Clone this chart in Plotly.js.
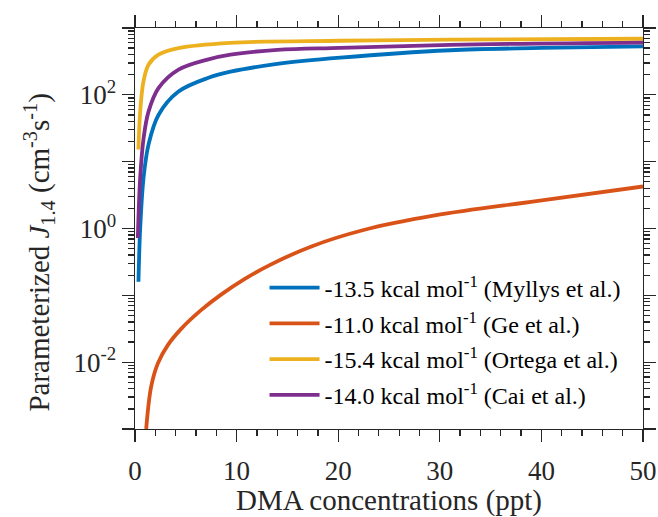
<!DOCTYPE html>
<html>
<head>
<meta charset="utf-8">
<script src="https://cdn.plot.ly/plotly-3.0.1.min.js"></script>
<style>
  html, body { margin: 0; padding: 0; background: #ffffff; }
  #chart { width: 658px; height: 517px; }
</style>
</head>
<body>
<div id="chart"></div>
<script>
// Parameterized J1.4 versus DMA concentration for four binding free energies

// -13.5 kcal/mol (Myllys et al.)
const myllysX = [0.34, 0.51, 0.84, 1.33, 2.31, 4.28, 7.23, 9.4, 14, 20.2, 31.0, 40, 50];
const myllysY = [0.16, 1.0, 5.7, 18, 50, 112, 180, 222, 290, 360, 465, 503, 532];

// -11.0 kcal/mol (Ge et al.)
const geX = [1.10, 1.59, 2.25, 3.23, 4.54, 6.5, 8.47, 10.77, 13.3, 17.3, 22.5, 29.5, 39.5, 50];
const geY = [0.001, 0.0043, 0.0096, 0.018, 0.0315, 0.060, 0.1025, 0.175, 0.286, 0.535, 0.95, 1.57, 2.57, 4.25];

// -15.4 kcal/mol (Ortega et al.)
const ortegaX = [0.34, 0.51, 0.84, 1.33, 2.31, 4.28, 9.4, 20.2, 31.0, 50];
const ortegaY = [15.2, 56, 160, 282, 398, 500, 600, 645, 668, 690];

// -14.0 kcal/mol (Cai et al.)
const caiX = [0.28, 0.51, 0.84, 1.33, 2.31, 4.28, 7.23, 9.4, 14, 20.2, 31.0, 50];
const caiY = [0.72, 5.7, 22, 56, 126, 238, 340, 400, 470, 505, 560, 605];

const seriesNames = [
  '-13.5 kcal mol<sup>-1</sup> (Myllys et al.)',
  '-11.0 kcal mol<sup>-1</sup> (Ge et al.)',
  '-15.4 kcal mol<sup>-1</sup> (Ortega et al.)',
  '-14.0 kcal mol<sup>-1</sup> (Cai et al.)'
];
const seriesColors = ['#0072BD', '#D95319', '#EDB120', '#7E2F8E'];

const yTickVals = [1e-3, 1e-2, 1e-1, 1, 10, 100, 1000];
const yTickText = ['', '10<sup>-2</sup>', '', '10<sup>0</sup>', '', '10<sup>2</sup>', ''];
const xTickVals = [0, 10, 20, 30, 40, 50];

const xTitle = 'DMA concentrations (ppt)';
const yTitle = 'Parameterized <i>J</i><sub>1.4</sub> (cm<sup>-3</sup>s<sup>-1</sup>)';

const xs = [myllysX, geX, ortegaX, caiX];
const ys = [myllysY, geY, ortegaY, caiY];

const traces = xs.map((x, i) => ({
  x: x,
  y: ys[i],
  type: 'scatter',
  mode: 'lines',
  name: seriesNames[i],
  legendgroup: 'g' + i,
  line: { color: seriesColors[i], width: 3.8, shape: 'spline', smoothing: 1 }
}));

const axisColor = '#262626';
const fontFamily = 'Liberation Serif, serif';

const layout = {
  width: 658,
  height: 517,
  margin: { l: 134.5, r: 15, t: 28, b: 88 },
  paper_bgcolor: '#ffffff',
  plot_bgcolor: '#ffffff',
  font: { family: fontFamily, color: axisColor, size: 24 },
  showlegend: true,
  legend: {
    x: 0.255,
    y: 0.4075,
    xanchor: 'left',
    yanchor: 'top',
    bgcolor: 'rgba(255,255,255,0)',
    borderwidth: 0,
    itemwidth: 50,
    font: { family: fontFamily, size: 24, color: '#000000' },
    tracegroupgap: 1.5
  },
  xaxis: {
    range: [0, 50],
    tickmode: 'array',
    tickvals: xTickVals,
    ticks: 'outside',
    ticklen: 12,
    tickwidth: 1.3,
    tickcolor: axisColor,
    ticklabelstandoff: 5,
    minor: { dtick: 2, ticks: 'outside', ticklen: 6, tickwidth: 1.3, tickcolor: axisColor },
    showline: true,
    linecolor: axisColor,
    linewidth: 1.3,
    mirror: 'ticks',
    showgrid: false,
    zeroline: false,
    tickfont: { size: 27, family: fontFamily, color: axisColor },
    title: { text: xTitle, font: { size: 29, family: fontFamily, color: axisColor }, standoff: 10 }
  },
  yaxis: {
    type: 'log',
    range: [-3, 3],
    tickmode: 'array',
    tickvals: yTickVals,
    ticktext: yTickText,
    ticks: 'outside',
    ticklen: 12,
    tickwidth: 1.3,
    tickcolor: axisColor,
    minor: { dtick: 'D1', ticks: 'outside', ticklen: 6, tickwidth: 1.3, tickcolor: axisColor },
    showline: true,
    linecolor: axisColor,
    linewidth: 1.3,
    mirror: 'ticks',
    showgrid: false,
    zeroline: false,
    tickfont: { size: 27, family: fontFamily, color: axisColor }
  },
  annotations: [{
    text: yTitle,
    textangle: -90,
    xref: 'paper',
    yref: 'paper',
    x: (38 - 134.5) / 508.5,
    y: (429 - 253) / 401,
    xanchor: 'center',
    yanchor: 'middle',
    showarrow: false,
    font: { size: 29, family: fontFamily, color: axisColor }
  }]
};

Plotly.newPlot('chart', traces, layout, { displayModeBar: false, staticPlot: true });
</script>
</body>
</html>
